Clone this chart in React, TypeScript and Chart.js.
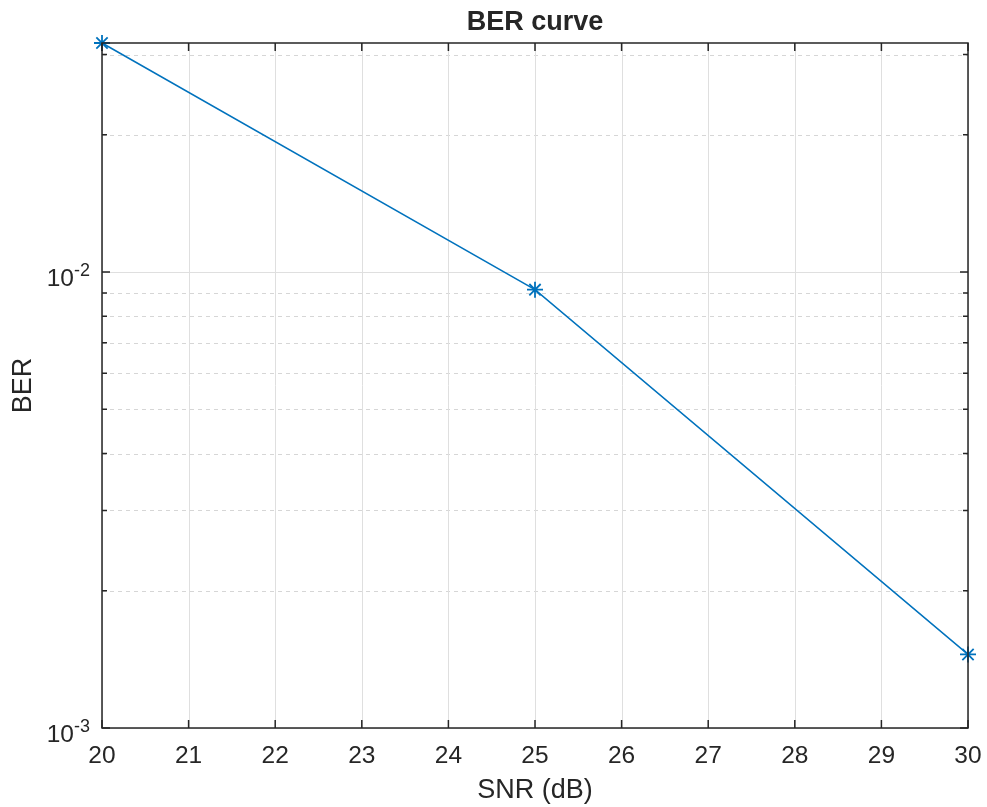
import React, { useEffect, useRef } from "react";
import { Chart, registerables } from "chart.js";

Chart.register(...registerables);

// Measured bit error rate against signal-to-noise ratio
const snrDb = [20, 25, 30];
const ber = [0.0318, 0.00915, 0.00145];

// Axis ticks
const xTickValues = [20, 21, 22, 23, 24, 25, 26, 27, 28, 29, 30];
const yDecadeExponents = [-3, -2];
const yMin = 0.001;

const TITLE = "BER curve";
const X_LABEL = "SNR (dB)";
const Y_LABEL = "BER";

const FONT = '"Liberation Sans", Arial, Helvetica, sans-serif';
const TEXT = "#262626";
const AXIS = "#262626";
const GRID_MAJOR = "#dfdfdf";
const GRID_MINOR = "#d6d6d6";
const LINE = "#0072BD";

const axesPlugin = {
  id: "matlabAxes",
  beforeDatasetsDraw(chart: any) {
    const { ctx, chartArea, scales } = chart;
    const x = scales.x;
    const y = scales.y;
    const { left, right, top, bottom } = chartArea;
    ctx.save();
    // minor grid (dashed) at 2..9 within each decade
    ctx.strokeStyle = GRID_MINOR;
    ctx.lineWidth = 1;
    ctx.setLineDash([4, 4]);
    const yMax = y.max;
    for (let e = -4; e <= 0; e++) {
      for (let m = 2; m <= 9; m++) {
        const v = m * Math.pow(10, e);
        if (v <= y.min || v >= yMax) continue;
        const py = Math.round(y.getPixelForValue(v)) + 0.5;
        ctx.beginPath();
        ctx.moveTo(left, py);
        ctx.lineTo(right, py);
        ctx.stroke();
      }
    }
    ctx.setLineDash([]);
    // major grid
    ctx.strokeStyle = GRID_MAJOR;
    for (const t of xTickValues) {
      const px = Math.round(x.getPixelForValue(t)) + 0.5;
      ctx.beginPath();
      ctx.moveTo(px, top);
      ctx.lineTo(px, bottom);
      ctx.stroke();
    }
    for (const e of yDecadeExponents) {
      const py = Math.round(y.getPixelForValue(Math.pow(10, e))) + 0.5;
      ctx.beginPath();
      ctx.moveTo(left, py);
      ctx.lineTo(right, py);
      ctx.stroke();
    }
    ctx.restore();
  },
  afterDatasetsDraw(chart: any) {
    const { ctx, chartArea, scales } = chart;
    const x = scales.x;
    const y = scales.y;
    const { left, right, top, bottom } = chartArea;
    ctx.save();
    ctx.strokeStyle = AXIS;
    ctx.lineWidth = 1.5;
    // box
    ctx.strokeRect(left, top, right - left, bottom - top);
    // x ticks (bottom and top, inward)
    ctx.lineWidth = 1.5;
    for (const t of xTickValues) {
      const px = x.getPixelForValue(t);
      ctx.beginPath();
      ctx.moveTo(px, bottom);
      ctx.lineTo(px, bottom - 8);
      ctx.moveTo(px, top);
      ctx.lineTo(px, top + 8);
      ctx.stroke();
    }
    // y ticks: major and minor on both sides
    for (let e = -4; e <= 0; e++) {
      for (let m = 1; m <= 9; m++) {
        const v = m * Math.pow(10, e);
        if (v < y.min || v > y.max) continue;
        const py = y.getPixelForValue(v);
        const len = m === 1 ? 8 : 5;
        ctx.beginPath();
        ctx.moveTo(left, py);
        ctx.lineTo(left + len, py);
        ctx.moveTo(right, py);
        ctx.lineTo(right - len, py);
        ctx.stroke();
      }
    }
    // x tick labels
    ctx.fillStyle = TEXT;
    ctx.font = `24.5px ${FONT}`;
    ctx.textAlign = "center";
    ctx.textBaseline = "alphabetic";
    for (const t of xTickValues) {
      ctx.fillText(String(t), x.getPixelForValue(t), 763);
    }
    // y tick labels as 10^e
    for (const e of yDecadeExponents) {
      const py = y.getPixelForValue(Math.pow(10, e));
      const sup = String(e);
      ctx.font = `18px ${FONT}`;
      const supW = ctx.measureText(sup).width;
      ctx.textAlign = "right";
      ctx.fillText(sup, 90, py + 3.5);
      ctx.font = `24.5px ${FONT}`;
      ctx.fillText("10", 90 - supW, py + 14);
    }
    // title
    ctx.font = `bold 27px ${FONT}`;
    ctx.textAlign = "center";
    ctx.fillText(TITLE, (left + right) / 2, 30);
    // x label
    ctx.font = `27px ${FONT}`;
    ctx.fillText(X_LABEL, (left + right) / 2, 798);
    // y label
    ctx.translate(31, (top + bottom) / 2);
    ctx.rotate(-Math.PI / 2);
    ctx.fillText(Y_LABEL, 0, 0);
    ctx.restore();
  },
};

export default function App() {
  const canvasRef = useRef<HTMLCanvasElement | null>(null);

  useEffect(() => {
    const canvas = canvasRef.current;
    if (!canvas) return;
    const chart = new Chart(canvas, {
      type: "line",
      data: {
        datasets: [
          {
            data: snrDb.map((s, i) => ({ x: s, y: ber[i] })),
            borderColor: LINE,
            backgroundColor: LINE,
            borderWidth: 1.5,
            pointStyle: "star",
            pointRadius: 8,
            pointBorderWidth: 1.8,
            pointBorderColor: LINE,
            pointHoverRadius: 8,
            tension: 0,
            fill: false,
            clip: false as any,
          },
        ],
      },
      options: {
        responsive: false,
        animation: false,
        devicePixelRatio: 1,
        layout: { padding: { left: 0, top: 43, right: 19, bottom: 0 } },
        plugins: {
          legend: { display: false },
          title: { display: false },
          tooltip: { enabled: false },
        },
        scales: {
          x: {
            type: "linear",
            min: xTickValues[0],
            max: xTickValues[xTickValues.length - 1],
            grid: { display: false },
            border: { display: false },
            ticks: { display: false },
            afterFit: (scale: any) => {
              scale.height = 79;
            },
          },
          y: {
            type: "logarithmic",
            min: yMin,
            max: Math.max(...ber),
            grid: { display: false },
            border: { display: false },
            ticks: { display: false },
            afterFit: (scale: any) => {
              scale.width = 102;
            },
          },
        },
      },
      plugins: [axesPlugin],
    });
    return () => chart.destroy();
  }, []);

  return (
    <div style={{ position: "fixed", left: 0, top: 0, width: 987, height: 807, background: "#fff" }}>
      <canvas ref={canvasRef} width={987} height={807} style={{ display: "block" }} />
    </div>
  );
}
